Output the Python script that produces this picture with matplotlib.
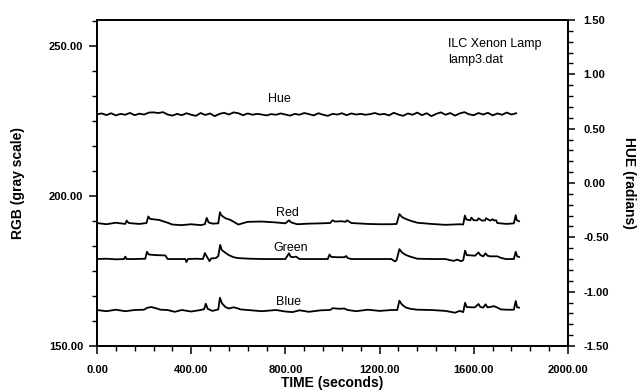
import numpy as np
import matplotlib
matplotlib.use("Agg")
import matplotlib.pyplot as plt
from matplotlib.ticker import MultipleLocator, FormatStrFormatter

plt.rcParams['font.family'] = ['Liberation Sans', 'DejaVu Sans']

# --- data -------------------------------------------------------------------
hue_time = np.arange(0, 1800, 20)
hue_values = [
    0.632, 0.640, 0.625, 0.642, 0.622, 0.636, 0.628, 0.645, 0.624, 0.638,
    0.630, 0.648, 0.650, 0.644, 0.652, 0.630, 0.620, 0.636, 0.624, 0.642,
    0.628, 0.618, 0.644, 0.626, 0.640, 0.615, 0.636, 0.646, 0.630, 0.650,
    0.642, 0.624, 0.640, 0.628, 0.636, 0.630, 0.622, 0.634, 0.628, 0.640,
    0.630, 0.620, 0.636, 0.628, 0.644, 0.634, 0.622, 0.642, 0.628, 0.618,
    0.636, 0.630, 0.642, 0.624, 0.640, 0.630, 0.636, 0.628, 0.634, 0.644,
    0.630, 0.636, 0.622, 0.646, 0.630, 0.618, 0.640, 0.628, 0.648, 0.624,
    0.642, 0.615, 0.636, 0.650, 0.628, 0.644, 0.620, 0.640, 0.652, 0.632,
    0.624, 0.644, 0.630, 0.646, 0.622, 0.640, 0.628, 0.648, 0.630, 0.642,
]

red_time = [
    0, 40, 80, 120, 126, 135, 180, 210, 218, 225,
    245, 265, 300, 320, 360, 400, 440, 458, 466, 474,
    490, 515, 522, 528, 545, 565, 585, 600, 640, 700,
    760, 800, 815, 825, 850, 900, 950, 990, 1000, 1010,
    1040, 1055, 1062, 1080, 1150, 1200, 1250, 1272, 1284, 1295,
    1310, 1330, 1360, 1420, 1480, 1540, 1555, 1562, 1568, 1585,
    1590, 1600, 1615, 1620, 1635, 1648, 1652, 1670, 1680, 1684,
    1695, 1700, 1740, 1770, 1778, 1782, 1792,
]
red_values = [
    191.0, 190.6, 191.1, 190.7, 191.8, 191.0, 190.7, 191.0, 193.2, 192.4,
    192.2, 192.0, 191.1, 190.5, 190.3, 190.6, 190.3, 190.6, 192.7, 191.2,
    190.8, 190.9, 194.6, 193.6, 192.6, 192.1, 191.2, 190.5, 191.4, 191.5,
    191.2, 190.9, 191.9, 191.2, 190.6, 190.8, 190.9, 191.0, 191.9, 191.5,
    191.6, 191.4, 191.9, 191.0, 190.7, 190.6, 190.6, 190.7, 194.0, 193.0,
    192.4, 191.8, 191.1, 190.7, 190.4, 190.6, 190.5, 193.5, 192.2, 191.9,
    192.8, 191.9, 191.9, 192.6, 191.8, 191.9, 192.6, 191.8, 192.3, 191.9,
    191.9, 191.0, 190.7, 190.9, 193.6, 192.0, 191.6,
]

green_time = [
    0, 40, 80, 115, 120, 126, 160, 205, 212, 220,
    250, 290, 300, 340, 375, 380, 386, 420, 450, 458,
    468, 478, 485, 505, 515, 523, 530, 545, 560, 580,
    600, 650, 700, 760, 800, 815, 822, 830, 845, 860,
    920, 980, 987, 995, 1020, 1050, 1058, 1065, 1080, 1150,
    1200, 1250, 1265, 1272, 1284, 1295, 1310, 1330, 1360, 1420,
    1480, 1500, 1515, 1530, 1545, 1555, 1563, 1570, 1590, 1605,
    1620, 1628, 1640, 1650, 1658, 1670, 1700, 1715, 1735, 1770,
    1778, 1784, 1792,
]
green_values = [
    179.0, 179.1, 178.9, 179.0, 179.8, 179.0, 179.0, 179.1, 181.4, 180.5,
    180.3, 180.2, 179.0, 179.0, 179.0, 178.0, 179.0, 179.1, 179.0, 181.0,
    179.6, 178.3, 179.2, 179.3, 180.0, 183.7, 182.0, 181.1, 180.3, 179.6,
    179.3, 179.1, 179.0, 179.0, 179.0, 180.9, 179.8, 179.6, 179.8, 179.0,
    179.0, 179.0, 180.5, 179.7, 179.6, 179.6, 180.0, 179.3, 179.0, 179.0,
    179.0, 179.0, 178.2, 178.6, 182.3, 181.2, 180.4, 179.8, 179.1, 179.0,
    179.0, 178.6, 178.4, 178.8, 178.3, 178.6, 181.8, 180.3, 180.2, 180.1,
    181.2, 180.3, 179.9, 180.9, 180.1, 179.9, 179.9, 179.4, 179.0, 179.0,
    181.4, 179.9, 179.7,
]

blue_time = [
    0, 40, 80, 120, 160, 200, 212, 230, 250, 270,
    300, 330, 360, 400, 440, 455, 462, 470, 490, 515,
    522, 530, 545, 560, 580, 595, 610, 640, 700, 760,
    800, 830, 860, 900, 950, 990, 1000, 1030, 1050, 1065,
    1100, 1150, 1200, 1250, 1275, 1284, 1295, 1310, 1330, 1360,
    1420, 1480, 1500, 1520, 1540, 1555, 1563, 1570, 1590, 1605,
    1620, 1628, 1640, 1650, 1658, 1670, 1685, 1700, 1715, 1740,
    1770, 1778, 1784, 1792,
]
blue_values = [
    162.0, 161.6, 162.1, 161.6, 162.0, 162.1, 162.7, 163.0, 162.6, 162.1,
    162.0, 161.4, 162.0, 161.5, 162.0, 162.3, 164.1, 162.4, 161.7, 162.2,
    166.1, 164.3, 163.0, 162.5, 162.9, 162.6, 162.2, 162.0, 161.6, 162.0,
    161.5, 161.3, 161.9, 161.4, 161.9, 162.0, 162.6, 162.4, 162.5, 162.0,
    161.6, 162.1, 161.7, 162.0, 162.0, 165.1, 163.8, 162.9, 162.4, 162.1,
    162.0, 161.7, 161.4, 161.1, 161.7, 161.3, 164.4, 163.0, 162.9, 162.9,
    164.0, 163.0, 162.8, 163.9, 162.9, 163.0, 163.3, 162.8, 162.2, 162.1,
    162.1, 165.0, 162.9, 162.8,
]

# --- figure -----------------------------------------------------------------
fig = plt.figure(figsize=(6.44, 3.92), dpi=100)
ax = fig.add_axes([97 / 644, 1 - 346 / 392, 471 / 644, 326 / 392])
ax2 = ax.twinx()

lw = 1.3
ax.plot(red_time, red_values, color="black", lw=lw)
ax.plot(green_time, green_values, color="black", lw=lw)
ax.plot(blue_time, blue_values, color="black", lw=lw)
ax2.plot(hue_time, hue_values, color="black", lw=lw)

ax.set_xlim(0, 2000)
ax.set_ylim(150, 258.7)
ax2.set_ylim(-1.5, 1.5)

ax.xaxis.set_major_locator(MultipleLocator(400))
ax.xaxis.set_minor_locator(MultipleLocator(80))
ax.yaxis.set_major_locator(MultipleLocator(50))
ax.yaxis.set_minor_locator(MultipleLocator(50 / 6))
ax2.yaxis.set_major_locator(MultipleLocator(0.5))
ax2.yaxis.set_minor_locator(MultipleLocator(0.1))
for a in (ax.xaxis, ax.yaxis, ax2.yaxis):
    a.set_major_formatter(FormatStrFormatter("%.2f"))

ax.tick_params(axis="x", which="major", direction="out", length=6, width=1.1,
               pad=8, labelsize=8)
ax.tick_params(axis="x", which="minor", direction="out", length=3.5, width=1.0)
ax.tick_params(axis="y", which="major", direction="out", length=6, width=1.1,
               pad=4, labelsize=8)
ax.tick_params(axis="y", which="minor", direction="out", length=3.5, width=1.0)
ax2.tick_params(axis="y", which="major", direction="out", length=5, width=1.1,
                pad=6, labelsize=8)
ax2.tick_params(axis="y", which="minor", direction="out", length=3.5, width=1.0)

for lab in ax.get_xticklabels() + ax.get_yticklabels() + ax2.get_yticklabels():
    lab.set_fontweight("bold")

for a in (ax, ax2):
    for s in a.spines.values():
        s.set_linewidth(1.3)

ax.set_xlabel("TIME (seconds)", fontsize=10, fontweight="bold")
ax.set_ylabel("RGB (gray scale)", fontsize=10, fontweight="bold")
ax2.set_ylabel("HUE (radians)", fontsize=10, fontweight="bold", rotation=-90)
ax.xaxis.set_label_coords(0.5, -0.093)
ax.yaxis.set_label_coords(-0.152, 0.5)
ax2.yaxis.set_label_coords(1.144, 0.5)

ax.text(0.745, 0.926, "ILC Xenon Lamp", transform=ax.transAxes,
        fontsize=9, ha="left", va="center")
ax.text(0.745, 0.877, "lamp3.dat", transform=ax.transAxes,
        fontsize=9, ha="left", va="center")

ax2.text(775, 0.769, "Hue", fontsize=9, ha="center", va="center")
ax.text(809, 194.2, "Red", fontsize=9, ha="center", va="center")
ax.text(822, 182.7, "Green", fontsize=9, ha="center", va="center")
ax.text(813, 164.8, "Blue", fontsize=9, ha="center", va="center")

fig.savefig("out.png", dpi=100)
